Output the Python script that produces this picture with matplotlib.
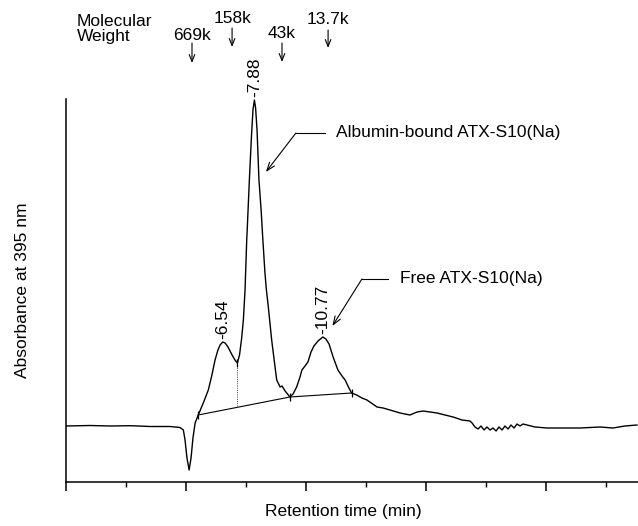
import matplotlib
matplotlib.use("Agg")
import matplotlib.pyplot as plt
from matplotlib.ticker import MultipleLocator

plt.rcParams['font.family'] = ['Liberation Sans', 'DejaVu Sans']
FS = 12.5

# chromatogram trace: retention time (min) vs absorbance (arbitrary units)
time = [0.00, 1.00, 1.83, 2.67, 3.50, 4.33, 4.75, 4.89, 4.96, 5.04, 5.13, 5.21,
        5.29, 5.38, 5.51, 5.72, 5.93, 6.08, 6.21, 6.33, 6.42, 6.53, 6.63, 6.75,
        6.92, 7.04, 7.14, 7.23, 7.32, 7.39, 7.46, 7.53, 7.55, 7.64, 7.73, 7.79,
        7.85, 7.90, 7.96, 8.04, 8.13, 8.19, 8.29, 8.35, 8.43, 8.57, 8.71, 8.78,
        8.92, 9.00, 9.13, 9.33, 9.46, 9.61, 9.75, 9.83, 9.96, 10.08, 10.21, 10.33,
        10.50, 10.70, 10.83, 10.96, 11.13, 11.33, 11.50, 11.63, 11.79, 11.90, 12.11,
        12.33, 12.54, 12.96, 13.21, 13.50, 13.92, 14.33, 14.63, 14.88, 15.17, 15.46,
        15.79, 16.13, 16.50, 16.83, 16.92, 17.04, 17.17, 17.29, 17.42, 17.54, 17.67,
        17.79, 17.92, 18.04, 18.17, 18.29, 18.42, 18.54, 18.67, 18.79, 18.92, 19.04,
        19.21, 19.54, 20.04, 20.58, 21.42, 22.25, 22.79, 23.29, 23.79]
absorb = [0.0, 0.5, 0.0, 0.3, -0.5, -0.5, -1.5, -4, -14, -32, -44, -32,
          -12, 3, 11, 23, 36, 51, 66, 76, 81, 84, 83, 79,
          71, 66, 63, 71, 88, 106, 136, 186, 196, 246, 291, 316,
          326, 318, 296, 246, 216, 191, 153, 136, 119, 86, 59, 46,
          39, 40, 35, 29, 32, 39, 49, 56, 60, 64, 74, 80,
          85, 89, 87, 82, 69, 56, 50, 46, 38, 33, 31,
          28, 26, 19, 18, 16, 13, 11, 14, 15, 14, 13,
          11, 9, 6, 5, 3, -1, -3, 0, -4, -1, -4,
          -2, -5, -1, -4, 0, -3, 1, -2, 2, 0, 2,
          1, -1, -2, -2, -2, -1, -2, 0, 1]

# integration baseline and peak split points
base_t = [5.51, 9.33, 11.90]
base_v = [11, 29, 33]
split_t = [7.14, 7.14]
split_v = [63, 19]

# peak retention-time labels
peak_t = [6.53, 7.85, 10.70]
peak_v = [84, 326, 89]
peak_lbl = ['-6.54', '-7.88', '-10.77']

# molecular weight markers
mw_lbl = ['669k', '158k', '43k', '13.7k']
mw_t = [5.25, 6.92, 9.00, 10.92]

fig = plt.figure(figsize=(6.38, 5.26), dpi=100)
ax = fig.add_axes([66 / 638, 44 / 526, 572 / 638, 383 / 526])

ax.plot(time, absorb, color='black', lw=1.0)
ax.plot(base_t, base_v, color='black', lw=0.8)
ax.plot(split_t, split_v, color='black', lw=0.6, ls=':')
ax.plot([base_t[0], split_t[0], base_t[1], base_t[2]],
        [base_v[0], split_v[0], base_v[1], base_v[2]],
        ls='none', marker='|', ms=6, mew=0.9, color='black')

for t, v, s in zip(peak_t, peak_v, peak_lbl):
    ax.text(t, v + 3, s, rotation=90, ha='center', va='bottom', fontsize=FS)

ax.set_xlim(0, 572 / 24)
ax.set_ylim(-56, 327)

for s in ['top', 'right']:
    ax.spines[s].set_visible(False)
for s in ['left', 'bottom']:
    ax.spines[s].set_linewidth(1.1)
ax.set_yticks([])
ax.xaxis.set_major_locator(MultipleLocator(5))
ax.xaxis.set_minor_locator(MultipleLocator(2.5))
ax.tick_params(axis='x', which='major', length=6.5, width=1.1, labelbottom=False)
ax.tick_params(axis='x', which='minor', length=3.3, width=1.0)

ax.set_xlabel('Retention time (min)', fontsize=FS)
ax.xaxis.set_label_coords(0.484, -0.058)
ax.xaxis.label.set_va('top')
ax.set_ylabel('Absorbance at 395 nm', fontsize=FS)
ax.yaxis.set_label_coords(-0.063, 0.5)

# leader arrows
arr = dict(arrowstyle='->,head_length=0.6,head_width=0.22', lw=0.8, color='black',
           shrinkA=0, shrinkB=0)
ax.plot([9.58, 10.79], [293, 293], color='black', lw=0.8)
ax.annotate('', xy=(8.33, 254), xytext=(9.58, 293), arrowprops=arr)
ax.text(11.25, 293, 'Albumin-bound ATX-S10(Na)', fontsize=FS, va='center', ha='left')

ax.plot([12.33, 13.42], [147, 147], color='black', lw=0.8)
ax.annotate('', xy=(11.1, 100), xytext=(12.33, 147), arrowprops=arr)
ax.text(13.92, 148, 'Free ATX-S10(Na)', fontsize=FS, va='center', ha='left')

# molecular weight markers on top
fig.text(77 / 638, 1 - 14 / 526, 'Molecular\nWeight', fontsize=FS, ha='left', va='top',
         linespacing=1.0)
text_y = [35, 18.5, 33.5, 20]
arr_top = [43, 28, 43, 30]
arr_tip = [63, 47, 62, 48]
for lbl, t, ty, a0, a1 in zip(mw_lbl, mw_t, text_y, arr_top, arr_tip):
    ax.annotate(lbl, xy=(t, 526 - ty), xycoords=('data', 'figure pixels'),
                ha='center', va='center', fontsize=FS, annotation_clip=False)
    ax.annotate('', xy=(t, 526 - a1), xytext=(t, 526 - a0),
                xycoords=('data', 'figure pixels'), textcoords=('data', 'figure pixels'),
                arrowprops=dict(arrowstyle='->,head_length=0.5,head_width=0.2', lw=0.8,
                                color='black', shrinkA=0, shrinkB=0),
                annotation_clip=False)

fig.savefig('out.png', dpi=100)
